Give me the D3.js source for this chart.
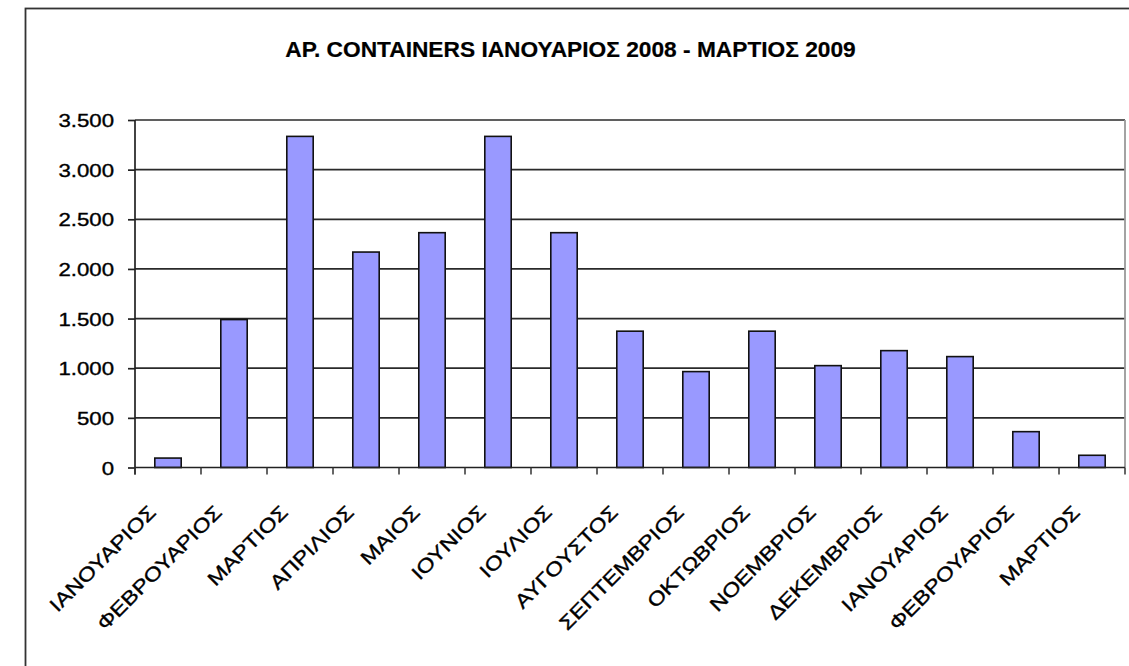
<!DOCTYPE html>
<html>
<head>
<meta charset="utf-8">
<script src="https://cdn.jsdelivr.net/npm/d3@7"></script>
<style>
  body { margin: 0; background: #fff; }
  text { font-family: "Liberation Sans", Arial, sans-serif; fill: #000; stroke: #000; stroke-width: 0.35px; }
</style>
</head>
<body>
<div id="chart"></div>
<script>
var months = ["ΙΑΝΟΥΑΡΙΟΣ", "ΦΕΒΡΟΥΑΡΙΟΣ", "ΜΑΡΤΙΟΣ", "ΑΠΡΙΛΙΟΣ", "ΜΑΙΟΣ", "ΙΟΥΝΙΟΣ", "ΙΟΥΛΙΟΣ",
    "ΑΥΓΟΥΣΤΟΣ", "ΣΕΠΤΕΜΒΡΙΟΣ", "ΟΚΤΩΒΡΙΟΣ", "ΝΟΕΜΒΡΙΟΣ", "ΔΕΚΕΜΒΡΙΟΣ", "ΙΑΝΟΥΑΡΙΟΣ", "ΦΕΒΡΟΥΑΡΙΟΣ", "ΜΑΡΤΙΟΣ"];
var containers = [95, 1490, 3335, 2170, 2365, 3335, 2365, 1373, 966, 1373, 1026, 1177, 1117, 361, 123];
var yTicks = [0, 500, 1000, 1500, 2000, 2500, 3000, 3500];
var title = "ΑΡ. CONTAINERS ΙΑΝΟΥΑΡΙΟΣ 2008 - ΜΑΡΤΙΟΣ 2009";

var width = 1129;
var height = 666;
var plot = { left: 135, right: 1125, top: 120, bottom: 467.5 };
var stretch = 1.2; // the original text is drawn wide

var svg = d3.select("#chart")
            .append("svg")
            .attr("width", width)
            .attr("height", height);

// outer chart frame, cut off at right and bottom
svg.append("rect")
    .attr("x", 25.5)
    .attr("y", 8.5)
    .attr("width", 1200)
    .attr("height", 800)
    .attr("fill", "#fff")
    .attr("stroke", "#333")
    .attr("stroke-width", 1.8);

var titleText = svg.append("text")
    .attr("text-anchor", "middle")
    .style("font-size", "21.5px")
    .style("font-weight", "bold")
    .style("stroke-width", "0.2px")
    .text(title);
var tw = titleText.node().getComputedTextLength();
titleText.attr("transform", "translate(570.5,57) scale(" + (571 / tw) + ",1)");

var x = d3.scaleBand()
            .domain(d3.range(months.length))
            .range([plot.left, plot.right])
            .paddingInner(0.6)
            .paddingOuter(0.3);

var y = d3.scaleLinear()
            .domain([0, 3500])
            .range([plot.bottom, plot.top]);

// gridlines
svg.append("g")
    .selectAll("line")
    .data(yTicks.slice(1))
    .enter()
    .append("line")
    .attr("x1", plot.left)
    .attr("x2", plot.right)
    .attr("y1", function (d) { return y(d); })
    .attr("y2", function (d) { return y(d); })
    .attr("stroke", "#2a2a2a")
    .attr("stroke-width", 1.7);

// right edge of plot area
svg.append("line")
    .attr("x1", plot.right)
    .attr("x2", plot.right)
    .attr("y1", plot.top)
    .attr("y2", plot.bottom)
    .attr("stroke", "#999")
    .attr("stroke-width", 1.8);

svg.selectAll("rect.bar")
    .data(containers)
    .enter()
    .append("rect")
    .attr("class", "bar")
    .attr("x", function (d, i) { return x(i); })
    .attr("y", function (d) { return y(d); })
    .attr("width", x.bandwidth())
    .attr("height", function (d) { return y(0) - y(d); })
    .attr("fill", "#9999ff")
    .attr("stroke", "#111")
    .attr("stroke-width", 1.6);

// y axis
var yAxis = d3.axisLeft(y)
                .tickValues(yTicks)
                .tickSize(7)
                .tickPadding(0)
                .tickFormat(function (d) { return d3.format(",")(d).replace(",", "."); });

var yg = svg.append("g")
    .attr("transform", "translate(" + plot.left + ",0)")
    .call(yAxis);
yg.select(".domain").attr("stroke", "#222").attr("stroke-width", 1.7)
    .attr("d", "M0," + plot.top + "V" + (plot.bottom + 7));
yg.selectAll(".tick line").attr("stroke", "#222").attr("stroke-width", 1.7);
yg.selectAll(".tick text")
    .style("font-size", "18.5px")
    .attr("x", null)
    .attr("dy", null)
    .attr("transform", "translate(-21,6.5) scale(" + stretch + ",1)");

// x axis, ticks sit on category boundaries
var bounds = d3.range(months.length + 1).map(function (i) {
    return plot.left + i * x.step();
});
svg.append("line")
    .attr("x1", plot.left)
    .attr("x2", plot.right)
    .attr("y1", plot.bottom)
    .attr("y2", plot.bottom)
    .attr("stroke", "#222")
    .attr("stroke-width", 1.7);
svg.append("g")
    .selectAll("line")
    .data(bounds)
    .enter()
    .append("line")
    .attr("x1", function (d) { return d; })
    .attr("x2", function (d) { return d; })
    .attr("y1", plot.bottom)
    .attr("y2", plot.bottom + 7)
    .attr("stroke", "#333")
    .attr("stroke-width", 1.5);

svg.append("g")
    .selectAll("text")
    .data(months)
    .enter()
    .append("text")
    .attr("text-anchor", "end")
    .style("font-size", "19.5px")
    .attr("transform", function (d, i) {
        var cx = x(i) + x.bandwidth() / 2;
        return "translate(" + (cx - 11) + "," + (plot.bottom + 46) + ") rotate(-45) scale(" + stretch + ",1)";
    })
    .text(function (d) { return d; });
</script>
</body>
</html>
